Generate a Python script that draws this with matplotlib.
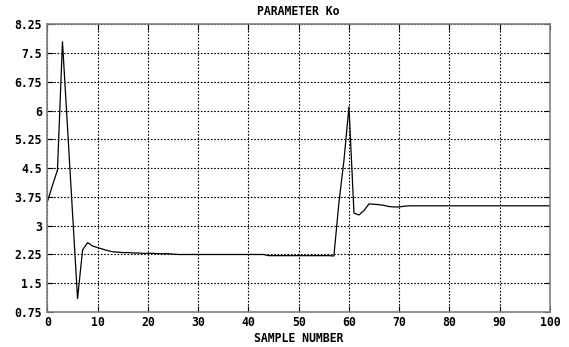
import matplotlib
matplotlib.use("Agg")
import matplotlib.pyplot as plt
import numpy as np

samples = list(range(0, 101))
k0_values = (
    [3.63, 4.05, 4.45, 7.80, 5.57, 3.33, 1.10, 2.37, 2.56, 2.47,
     2.43, 2.39, 2.35, 2.32, 2.31, 2.30, 2.30, 2.29, 2.29, 2.28,
     2.28, 2.28, 2.27, 2.27, 2.27, 2.26]
    + [2.25] * 18          # 26..43
    + [2.22] * 13          # 44..56
    + [2.21, 3.60, 4.70, 6.10, 3.33, 3.28, 3.40, 3.57, 3.56, 3.55,
       3.53, 3.50, 3.49, 3.49, 3.51]   # 57..71
    + [3.52] * 29          # 72..100
)

x_ticks = list(range(0, 101, 10))
y_ticks = [0.75, 1.5, 2.25, 3, 3.75, 4.5, 5.25, 6, 6.75, 7.5, 8.25]
y_tick_labels = ["0.75", "1.5", "2.25", "3", "3.75", "4.5", "5.25", "6", "6.75", "7.5", "8.25"]
title = "PARAMETER Ko"
x_label = "SAMPLE NUMBER"

font = dict(family="DejaVu Sans Mono", weight="bold", size=8.3)

fig = plt.figure(figsize=(5.69, 3.47), dpi=100)
ax = fig.add_axes([0.0833, 0.1009, 0.8833, 0.8285])
ax.plot(samples, k0_values, color="black", linewidth=0.9)

ax.set_xlim(0, 100)
ax.set_ylim(0.75, 8.25)
ax.set_xticks(x_ticks)
ax.set_yticks(y_ticks)
ax.set_xticklabels([str(t) for t in x_ticks], fontdict=font)
ax.set_yticklabels(y_tick_labels, fontdict=font)
ax.grid(True, color="black", linestyle=(0, (1.5, 1.5)), linewidth=0.8)
for s in ax.spines.values():
    s.set_color("#808080")
    s.set_linewidth(1.2)
ax.tick_params(axis="y", direction="in", length=4, color="black", width=0.8,
               right=True, pad=4)
ax.tick_params(axis="x", direction="in", length=4, color="black", width=0.8,
               top=True, pad=3)
ax.set_title(title, fontdict=font, pad=7)
ax.set_xlabel(x_label, fontdict=font, labelpad=2)

fig.savefig("out.png", dpi=100)
